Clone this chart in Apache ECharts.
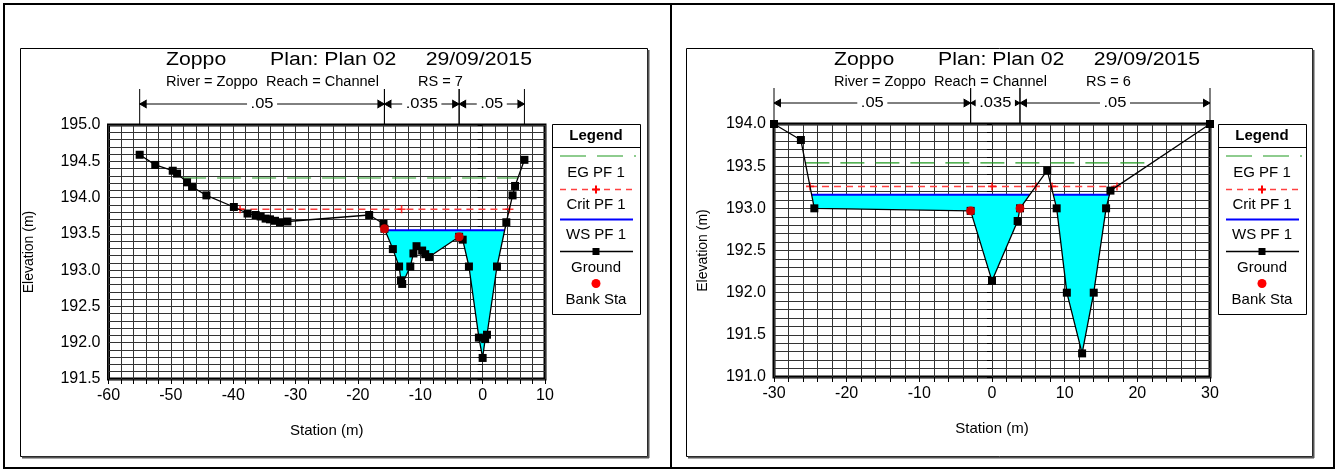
<!DOCTYPE html>
<html>
<head>
<meta charset="utf-8">
<script src="https://cdn.jsdelivr.net/npm/echarts@6/dist/echarts.min.js"></script>
<style>
  html, body { margin: 0; padding: 0; background: #fff; }
  #chart { width: 1338px; height: 472px; }
</style>
</head>
<body>
<div id="chart"></div>
<script>
// ---- Cross section RS = 7 ----
const rs7Station = [-55, -52.5, -49.7, -49.0, -47.4, -46.6, -44.3, -39.9, -37.7, -36.4, -35.6, -34.8, -34.1, -33.3, -32.5, -31.3,
  -18.2, -15.9, -15.75, -14.4, -13.4, -13.1, -12.9, -11.6, -11.1, -10.6, -9.7, -9.2, -8.6,
  -3.77, -3.2, -2.2, -0.6, 0.0, 0.4, 0.7, 2.3, 3.8, 4.8, 5.2, 6.7];
const rs7Elev = [194.59, 194.45, 194.37, 194.33, 194.21, 194.15, 194.03, 193.87, 193.78, 193.76, 193.74, 193.71, 193.70, 193.68, 193.66, 193.67,
  193.76, 193.64, 193.57, 193.29, 193.05, 192.86, 192.81, 193.05, 193.23, 193.33, 193.27, 193.22, 193.18,
  193.46, 193.42, 193.05, 192.07, 191.79, 192.05, 192.11, 193.05, 193.66, 194.03, 194.16, 194.52];
const rs7BankSta = [-15.75, -3.77];
const rs7WS = 193.55;
const rs7EG = 194.27;
const rs7Crit = 193.84;
const rs7CritMarks = [-38.9, -13.0, 4.3];
const rs7Manning = ['.05', '.035', '.05'];
const rs7XRange = [-60, 10];
const rs7YRange = [191.5, 195.0];

// ---- Cross section RS = 6 ----
const rs6Station = [-30, -26.3, -24.45, -2.94, 0.0, 3.53, 3.85, 7.6, 8.9, 10.3, 12.4, 14.0, 15.7, 16.3, 30];
const rs6Elev = [194.0, 193.81, 193.0, 192.97, 192.14, 192.85, 193.0, 193.45, 193.0, 192.0, 191.28, 192.0, 193.0, 193.21, 194.0];
const rs6BankSta = [-2.94, 3.85];
const rs6WS = 193.16;
const rs6EG = 193.54;
const rs6Crit = 193.26;
const rs6CritMarks = [-25.04, 0.0, 6.05, 8.26, 17.2];
const rs6Manning = ['.05', '.035', '.05'];
const rs6XRange = [-30, 30];
const rs6YRange = [191.0, 194.0];

const FONT = 'Liberation Sans, Arial, sans-serif';
const WIDE = 1.18; // horizontal stretch of the header lettering

// ground elevation at a station (linear between surveyed points)
function groundAt(xs, ys, s) {
  for (let i = 0; i < xs.length - 1; i++) {
    if (s >= xs[i] && s <= xs[i + 1]) {
      const t = (s - xs[i]) / (xs[i + 1] - xs[i] || 1);
      return ys[i] + t * (ys[i + 1] - ys[i]);
    }
  }
  return ys[ys.length - 1];
}

// station ranges where the ground lies below a water level
function wetSegments(xs, ys, level) {
  const segs = [];
  let start = ys[0] < level ? xs[0] : null;
  for (let i = 0; i < xs.length - 1; i++) {
    const a = ys[i] - level, b = ys[i + 1] - level;
    if (a >= 0 && b < 0) start = xs[i] + (xs[i + 1] - xs[i]) * a / (a - b);
    else if (a < 0 && b >= 0) {
      segs.push([start, xs[i] + (xs[i + 1] - xs[i]) * a / (a - b)]);
      start = null;
    }
  }
  if (start !== null) segs.push([start, xs[xs.length - 1]]);
  return segs;
}

// water polygons: level line plus the ground points beneath it
function waterPolygons(xs, ys, level) {
  return wetSegments(xs, ys, level).map(([a, b]) => {
    const pts = [[a, level]];
    xs.forEach((s, i) => { if (s > a && s < b) pts.push([s, ys[i]]); });
    pts.push([b, level]);
    return pts;
  });
}

const plusSymbol = 'path://M4,0 L6,0 L6,4 L10,4 L10,6 L6,6 L6,10 L4,10 L4,6 L0,6 L0,4 L4,4 Z';

const panels = [
  {
    xs: rs7Station, ys: rs7Elev, banks: rs7BankSta, ws: rs7WS, eg: rs7EG, crit: rs7Crit,
    critMarks: rs7CritMarks, manning: rs7Manning, xr: rs7XRange, yr: rs7YRange, rs: '7',
    grid: { left: 108.5, top: 125, width: 436.5, height: 254 },
    box: [20, 48, 627, 408], legendX: 552, tx: 166, yGap: 72
  },
  {
    xs: rs6Station, ys: rs6Elev, banks: rs6BankSta, ws: rs6WS, eg: rs6EG, crit: rs6Crit,
    critMarks: rs6CritMarks, manning: rs6Manning, xr: rs6XRange, yr: rs6YRange, rs: '6',
    grid: { left: 774, top: 124, width: 436, height: 253 },
    box: [686, 48, 626, 408], legendX: 1218, tx: 834, yGap: 64
  }
];

const grids = [], xAxes = [], yAxes = [], series = [], graphics = [];

// outer sheet frame and divider
graphics.push(
  { type: 'rect', shape: { x: 4, y: 4, width: 1330, height: 464 }, style: { fill: 'none', stroke: '#000', lineWidth: 2 }, z: 1 },
  { type: 'line', shape: { x1: 671, y1: 4, x2: 671, y2: 468 }, style: { stroke: '#000', lineWidth: 2 }, z: 1 }
);

panels.forEach((p, gi) => {
  grids.push(Object.assign({ show: true, borderColor: '#000', borderWidth: 3, backgroundColor: '#fff', containLabel: false }, p.grid));

  xAxes.push({
    gridIndex: gi, type: 'value', min: p.xr[0], max: p.xr[1], interval: 2,
    name: 'Station (m)', nameLocation: 'middle', nameGap: 44,
    nameTextStyle: { color: '#000', fontSize: 15, fontFamily: FONT },
    axisLine: { show: false },
    axisTick: { show: true, length: 5, lineStyle: { color: '#000', width: 1 } },
    axisLabel: {
      color: '#000', fontSize: 16, fontFamily: FONT, margin: 9,
      formatter: v => Math.abs(v % 10) < 1e-9 ? String(Math.round(v)) : ''
    },
    splitLine: { show: true, lineStyle: { color: '#333', width: 1 } }
  });

  yAxes.push({
    gridIndex: gi, type: 'value', min: p.yr[0], max: p.yr[1], interval: 0.1,
    name: 'Elevation (m)', nameLocation: 'middle', nameGap: p.yGap,
    nameTextStyle: { color: '#000', fontSize: 14, fontFamily: FONT },
    axisLine: { show: false },
    axisTick: { show: true, length: 5, lineStyle: { color: '#000', width: 1 } },
    axisLabel: {
      color: '#000', fontSize: 16, fontFamily: FONT, margin: 8,
      formatter: v => Math.abs(v * 2 - Math.round(v * 2)) < 1e-6 ? v.toFixed(1) : ''
    },
    splitLine: { show: true, lineStyle: { color: '#333', width: 1 } }
  });

  const polys = waterPolygons(p.xs, p.ys, p.ws);
  const yTopVal = p.yr[1];

  // water body with its surface line
  series.push({
    type: 'custom', xAxisIndex: gi, yAxisIndex: gi, z: 3, silent: true, animation: false,
    data: polys.map((poly, i) => [poly[0][0], p.ws, i]),
    encode: { x: 0, y: 1 },
    renderItem: (params, api) => {
      const pts = polys[params.dataIndex].map(pt => api.coord(pt));
      const a = pts[0], b = pts[pts.length - 1];
      return {
        type: 'group', children: [
          { type: 'polygon', shape: { points: pts }, style: { fill: '#00ffff', stroke: null } },
          { type: 'line', shape: { x1: a[0], y1: a[1], x2: b[0], y2: b[1] }, style: { stroke: '#0000ff', lineWidth: 2 } }
        ]
      };
    }
  });

  // energy grade line
  wetSegments(p.xs, p.ys, p.eg).forEach(([a, b]) => {
    series.push({
      type: 'line', xAxisIndex: gi, yAxisIndex: gi, z: 4, symbol: 'none', animation: false, silent: true,
      data: [[a, p.eg], [b, p.eg]],
      lineStyle: { color: '#1f9a1f', width: 1.2, type: [24, 11] }
    });
  });

  // critical water surface
  wetSegments(p.xs, p.ys, p.crit).forEach(([a, b]) => {
    series.push({
      type: 'line', xAxisIndex: gi, yAxisIndex: gi, z: 4, symbol: 'none', animation: false, silent: true,
      data: [[a, p.crit], [b, p.crit]],
      lineStyle: { color: '#ff4040', width: 1.5, type: [7, 5] }
    });
  });
  series.push({
    type: 'scatter', xAxisIndex: gi, yAxisIndex: gi, z: 5, animation: false, silent: true,
    symbol: plusSymbol, symbolSize: 8, itemStyle: { color: '#ff0000' },
    data: p.critMarks.map(s => [s, p.crit])
  });

  // ground profile
  series.push({
    type: 'line', xAxisIndex: gi, yAxisIndex: gi, z: 6, animation: false, silent: true,
    showAllSymbol: true, symbol: 'rect', symbolSize: 8,
    itemStyle: { color: '#000' }, lineStyle: { color: '#000', width: 1.3 },
    data: p.xs.map((s, i) => [s, p.ys[i]])
  });

  // bank stations
  series.push({
    type: 'scatter', xAxisIndex: gi, yAxisIndex: gi, z: 7, animation: false, silent: true,
    symbol: 'circle', symbolSize: 9, itemStyle: { color: '#ff0000' },
    data: p.banks.map(s => [s, groundAt(p.xs, p.ys, s)])
  });

  // Manning's n reaches above the plot
  const breaks = [p.xs[0], p.banks[0], p.banks[1], p.xs[p.xs.length - 1]];
  series.push({
    type: 'custom', xAxisIndex: gi, yAxisIndex: gi, z: 8, silent: true, animation: false, clip: false,
    data: p.manning.map((n, i) => [breaks[i], breaks[i + 1], yTopVal, i]),
    encode: { x: [0, 1], y: 2 },
    renderItem: (params, api) => {
      const c1 = api.coord([api.value(0), api.value(2)]);
      const c2 = api.coord([api.value(1), api.value(2)]);
      const x1 = c1[0], x2 = c2[0], yT = c1[1];
      const ay = yT - 21, ly = yT - 36, h = 7, v = 4;
      const st = { stroke: '#000', lineWidth: 1 };
      return {
        type: 'group', children: [
          { type: 'line', shape: { x1: x1, y1: ly, x2: x1, y2: yT }, style: st },
          { type: 'line', shape: { x1: x2, y1: ly, x2: x2, y2: yT }, style: st },
          { type: 'line', shape: { x1: x1, y1: ay, x2: x2, y2: ay }, style: st },
          { type: 'polyline', shape: { points: [[x1 + h, ay - v], [x1, ay], [x1 + h, ay + v]] }, style: st },
          { type: 'polyline', shape: { points: [[x2 - h, ay - v], [x2, ay], [x2 - h, ay + v]] }, style: st },
          {
            type: 'text', x: (x1 + x2) / 2, y: ay, scaleX: WIDE,
            style: {
              text: p.manning[params.dataIndex], fill: '#000', font: '14px ' + FONT,
              align: 'center', verticalAlign: 'middle', backgroundColor: '#fff', padding: [0, 3]
            }
          }
        ]
      };
    }
  });

  // panel frame with shadow
  const [bx, by, bw, bh] = p.box;
  graphics.push(
    { type: 'rect', shape: { x: bx + 0.5, y: by + 0.5, width: bw, height: bh }, style: { fill: 'none', stroke: '#000', lineWidth: 1 }, z: 1 },
    { type: 'line', shape: { x1: bx + bw + 1.5, y1: by + 2, x2: bx + bw + 1.5, y2: by + bh + 2 }, style: { stroke: '#555', lineWidth: 2 }, z: 1 },
    { type: 'line', shape: { x1: bx + 2, y1: by + bh + 1.5, x2: bx + bw + 2, y2: by + bh + 1.5 }, style: { stroke: '#555', lineWidth: 2 }, z: 1 }
  );

  // titles
  const tt = (s, x, y, size, align, sx) => ({
    type: 'text', x: x, y: y, z: 10, scaleX: sx,
    style: { text: s, font: size + 'px ' + FONT, fill: '#000', align: align, verticalAlign: 'middle' }
  });
  graphics.push(
    tt('Zoppo', p.tx, 60, 18, 'left', WIDE),
    tt('Plan: Plan 02', p.tx + 104, 60, 18, 'left', WIDE),
    tt('29/09/2015', p.tx + 366, 60, 18, 'right', WIDE),
    tt('River = Zoppo', p.tx, 82, 14, 'left', 1.04),
    tt('Reach = Channel', p.tx + 100, 82, 14, 'left', 1.04),
    tt('RS = ' + p.rs, p.tx + 252, 82, 14, 'left', 1.04)
  );

  // legend block
  const lx = p.legendX, lw = 88, cx = lx + lw / 2, t = 124;
  const txt = (s, y, bold) => ({
    type: 'text', x: cx, y: y, z: 10,
    style: { text: s, font: (bold ? 'bold ' : '') + '15px ' + FONT, fill: '#000', align: 'center', verticalAlign: 'middle' }
  });
  graphics.push(
    { type: 'rect', z: 9, shape: { x: lx + 0.5, y: t + 0.5, width: lw, height: 190 }, style: { fill: '#fff', stroke: '#000', lineWidth: 1 } },
    { type: 'line', z: 10, shape: { x1: lx, y1: t + 23.5, x2: lx + lw, y2: t + 23.5 }, style: { stroke: '#000', lineWidth: 1 } },
    txt('Legend', t + 12, true),
    { type: 'line', z: 10, shape: { x1: lx + 8, y1: t + 32, x2: lx + 84, y2: t + 32 }, style: { stroke: '#1f9a1f', lineWidth: 1.2, lineDash: [26, 11] } },
    txt('EG PF 1', t + 49),
    { type: 'line', z: 10, shape: { x1: lx + 8, y1: t + 65.5, x2: lx + 82, y2: t + 65.5 }, style: { stroke: '#ff4040', lineWidth: 1.5, lineDash: [6, 5] } },
    { type: 'line', z: 11, shape: { x1: cx - 4, y1: t + 65.5, x2: cx + 4, y2: t + 65.5 }, style: { stroke: '#ff0000', lineWidth: 2 } },
    { type: 'line', z: 11, shape: { x1: cx, y1: t + 61.5, x2: cx, y2: t + 69.5 }, style: { stroke: '#ff0000', lineWidth: 2 } },
    txt('Crit PF 1', t + 81),
    { type: 'line', z: 10, shape: { x1: lx + 8, y1: t + 95.5, x2: lx + 81, y2: t + 95.5 }, style: { stroke: '#0000ff', lineWidth: 2 } },
    txt('WS PF 1', t + 111),
    { type: 'line', z: 10, shape: { x1: lx + 8, y1: t + 127.5, x2: lx + 81, y2: t + 127.5 }, style: { stroke: '#000', lineWidth: 1.3 } },
    { type: 'rect', z: 11, shape: { x: cx - 3.5, y: t + 124, width: 7, height: 7 }, style: { fill: '#000' } },
    txt('Ground', t + 144),
    { type: 'circle', z: 11, shape: { cx: cx, cy: t + 159.5, r: 4.5 }, style: { fill: '#ff0000' } },
    txt('Bank Sta', t + 176)
  );
});

const chart = echarts.init(document.getElementById('chart'), null, { renderer: 'canvas' });
chart.setOption({
  animation: false,
  backgroundColor: '#fff',
  grid: grids,
  xAxis: xAxes,
  yAxis: yAxes,
  series: series,
  graphic: { elements: graphics }
});
</script>
</body>
</html>
